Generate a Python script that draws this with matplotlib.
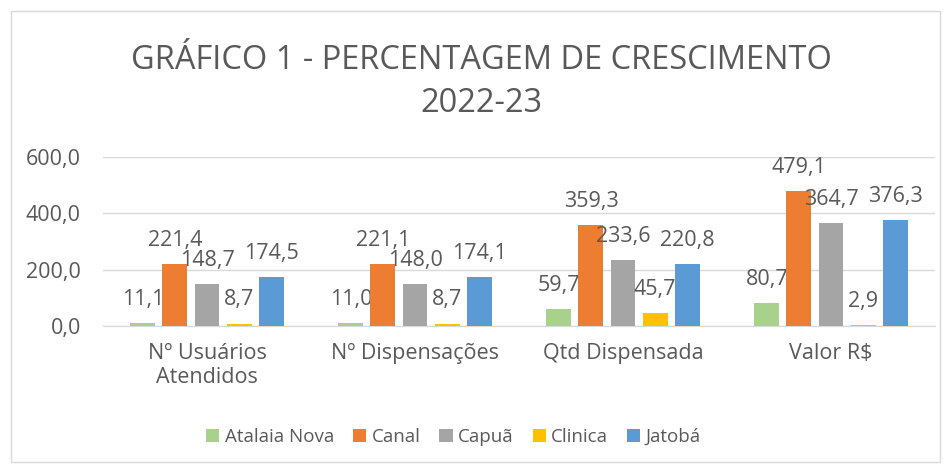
import numpy as np
import matplotlib
matplotlib.use("Agg")
import matplotlib.pyplot as plt
from matplotlib.patches import Rectangle

categories = ['Nº Usuários\nAtendidos', 'Nº Dispensações', 'Qtd Dispensada', 'Valor R$']
series_names = ['Atalaia Nova', 'Canal', 'Capuã', 'Clinica', 'Jatobá']
atalaia = [11.1, 11.0, 59.7, 80.7]
canal = [221.4, 221.1, 359.3, 479.1]
capua = [148.7, 148.0, 233.6, 364.7]
clinica = [8.7, 8.7, 45.7, 2.9]
jatoba = [174.5, 174.1, 220.8, 376.3]
yticks = [0, 200, 400, 600]

colors = ['#A9D18E', '#ED7D31', '#A5A5A5', '#FFC000', '#5B9BD5']
txt = '#595959'

plt.rcParams['font.family'] = ['Open Sans', 'DejaVu Sans']

fig = plt.figure(figsize=(9.53, 4.70), dpi=100)
fig.patches.append(Rectangle((11 / 953, 8 / 470), 929 / 953, 451 / 470,
                             transform=fig.transFigure, fill=False,
                             edgecolor='#D9D9D9', linewidth=1))
ax = fig.add_axes([103 / 953, 144 / 470, 832 / 953, 169 / 470])

all_series = [atalaia, canal, capua, clinica, jatoba]
x = np.arange(len(categories))
step = 0.154
width = 0.12
for i, (name, vals) in enumerate(zip(series_names, all_series)):
    pos = x + (i - 2) * step
    bars = ax.bar(pos, vals, width, color=colors[i], label=name, zorder=3)
    for rect, v in zip(bars, vals):
        ax.annotate(f'{v:.1f}'.replace('.', ','),
                    xy=(rect.get_x() + rect.get_width() / 2, rect.get_height()),
                    xytext=(0, 17), textcoords='offset points',
                    ha='center', va='center', fontsize=15.5, color=txt)

ax.set_xlim(-0.5, 3.5)
ax.set_ylim(0, 600)
ax.set_yticks(yticks)
ax.set_yticklabels([f'{t:.1f}'.replace('.', ',') for t in yticks])
ax.set_xticks(x)
ax.set_xticklabels(categories)
ax.tick_params(axis='both', length=0, labelsize=15.5, colors=txt)
ax.tick_params(axis='y', pad=16)
ax.tick_params(axis='x', pad=12)
ax.grid(axis='y', color='#D9D9D9', linewidth=1, zorder=0)
for s in ['top', 'right', 'left']:
    ax.spines[s].set_visible(False)
ax.spines['bottom'].set_color('#D9D9D9')

fig.text(0.505, 0.825, 'GRÁFICO 1 - PERCENTAGEM DE CRESCIMENTO\n2022-23',
         ha='center', va='center', fontsize=23.5, color=txt, linespacing=1.4)

fig.legend(loc='center', bbox_to_anchor=(0.476, 0.07), ncol=5, frameon=False,
           fontsize=13.5, labelcolor=txt, handlelength=0.7, handleheight=0.7,
           handletextpad=0.3, columnspacing=1.0)

fig.savefig('out.png', dpi=100)
